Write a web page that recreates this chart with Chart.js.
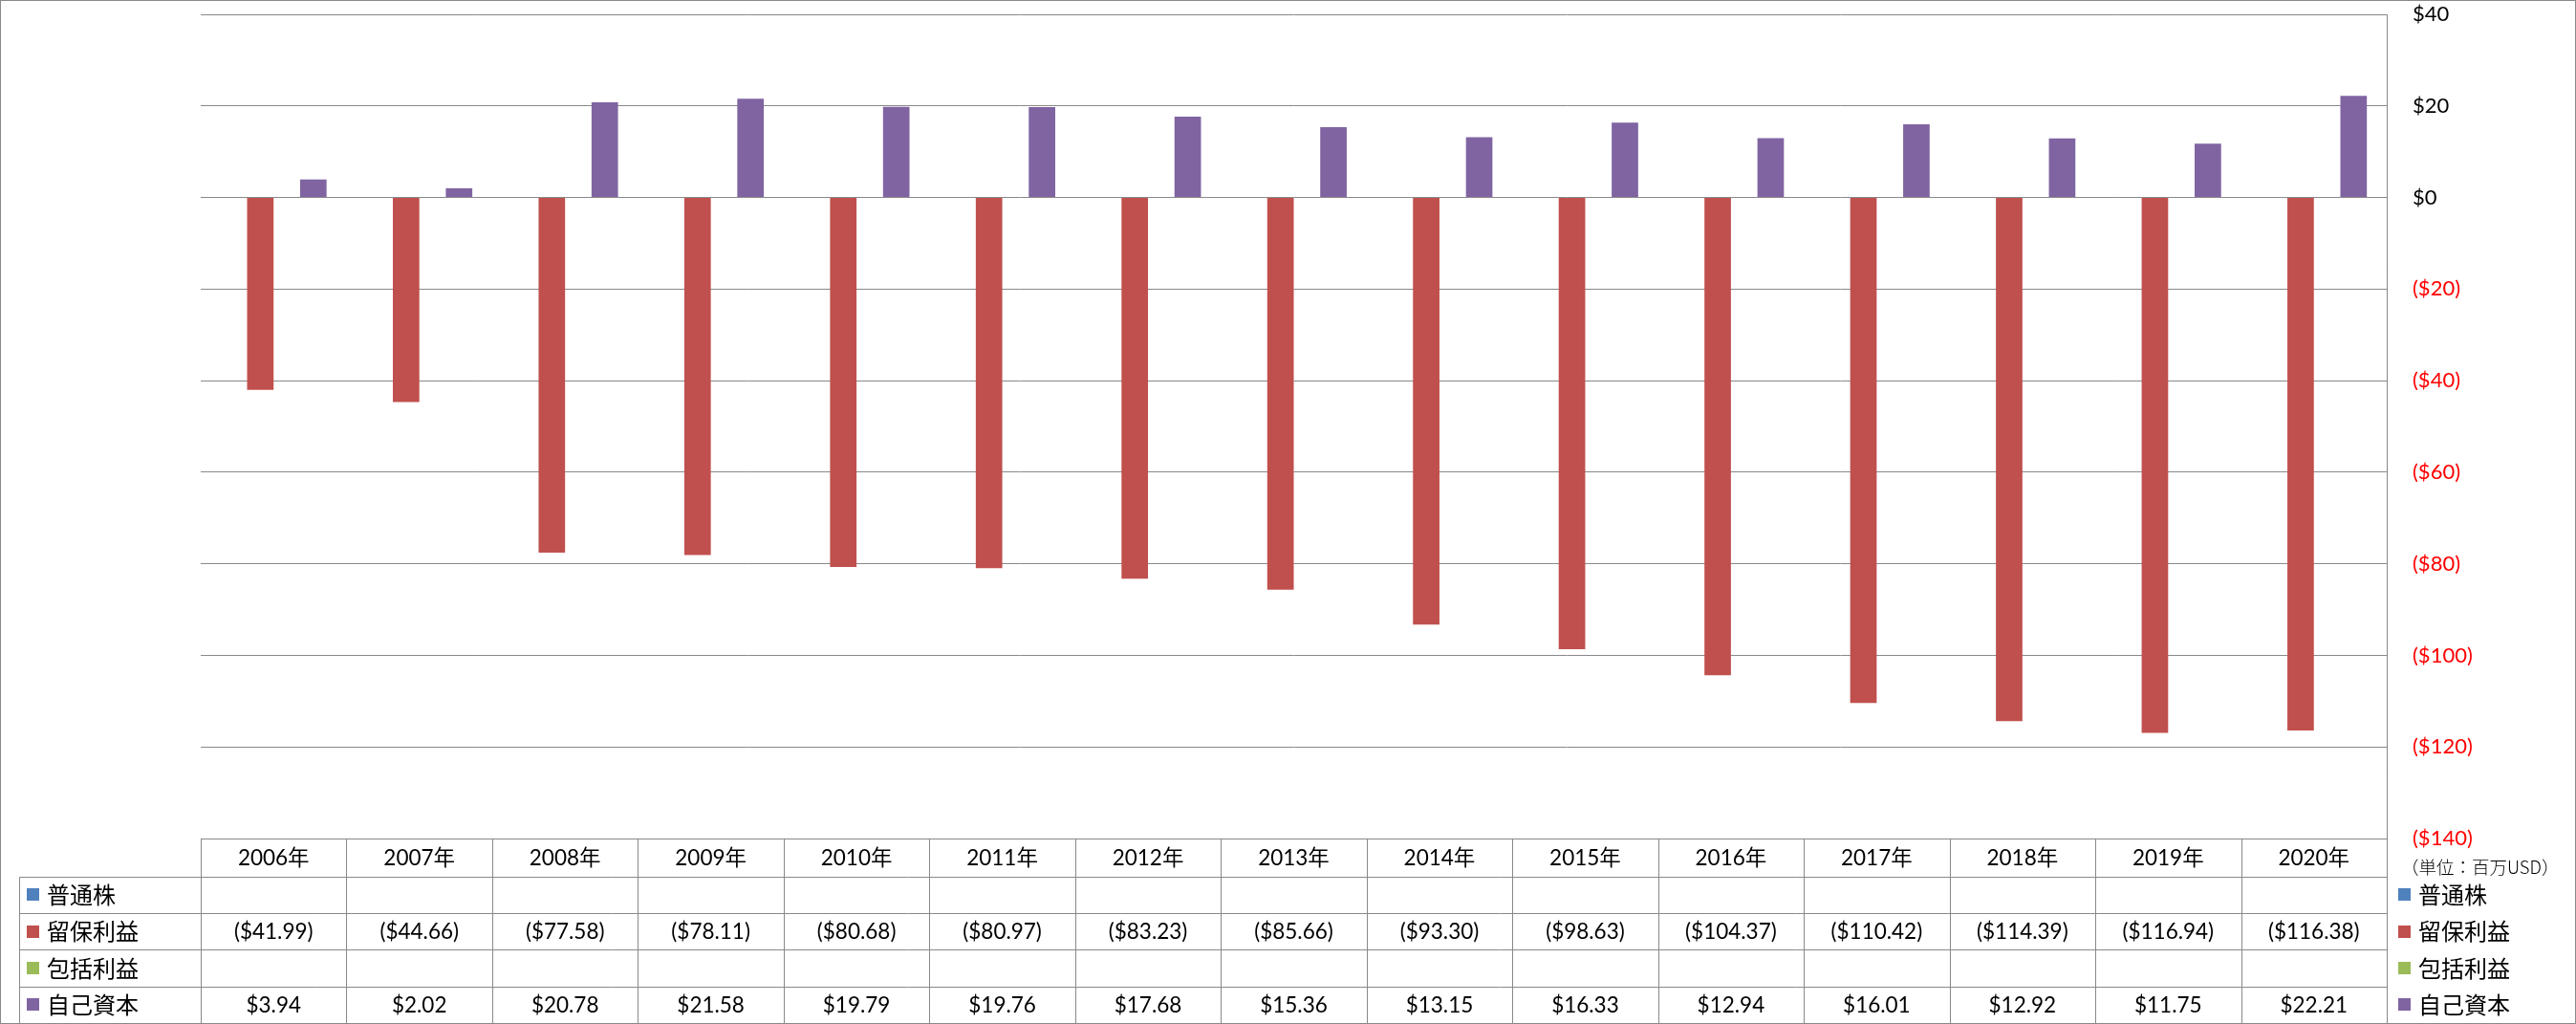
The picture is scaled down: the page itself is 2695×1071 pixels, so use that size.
<!DOCTYPE html>
<html>
<head>
<meta charset="utf-8">
<script src="https://cdn.jsdelivr.net/npm/chart.js@4/dist/chart.umd.min.js"></script>
<style>
html,body{margin:0;padding:0;background:#fff;}
canvas{display:block;}
</style>
</head>
<body>
<canvas id="c" width="2695" height="1071"></canvas>
<script>
const categories = ['2006年','2007年','2008年','2009年','2010年','2011年','2012年','2013年','2014年','2015年','2016年','2017年','2018年','2019年','2020年'];
const seriesNames = ['普通株','留保利益','包括利益','自己資本'];
const commonStock = [null,null,null,null,null,null,null,null,null,null,null,null,null,null,null];
const retainedEarnings = [-41.99,-44.66,-77.58,-78.11,-80.68,-80.97,-83.23,-85.66,-93.30,-98.63,-104.37,-110.42,-114.39,-116.94,-116.38];
const comprehensiveIncome = [null,null,null,null,null,null,null,null,null,null,null,null,null,null,null];
const equity = [3.94,2.02,20.78,21.58,19.79,19.76,17.68,15.36,13.15,16.33,12.94,16.01,12.92,11.75,22.21];
const yMin = -140, yMax = 40, yStep = 20;
const unitLabel = '（単位：百万USD）';

const colors = ['#4F81BD','#C0504D','#9BBB59','#8064A2'];
const seriesData = [commonStock, retainedEarnings, comprehensiveIncome, equity];
const gridColor = '#898989';
const numFont = 'Lato, "Liberation Sans", "Noto Sans CJK JP", sans-serif';
const cjkFont = '"Noto Sans CJK JP", sans-serif';

function fmt(v){
  if (v === null || v === undefined) return '';
  return v < 0 ? '($' + Math.abs(v).toFixed(2) + ')' : '$' + v.toFixed(2);
}

const tablePlugin = {
  id: 'dataTable',
  afterDraw(chart){
    const ctx = chart.ctx;
    const ca = chart.chartArea;
    const xs = chart.scales.x;
    const n = categories.length;
    const left = ca.left, right = ca.right;
    const colW = (right - left) / n;
    const top = ca.bottom;
    const headerBottom = top + 39.5;
    const tableBottom = 1070;
    const rowH = (tableBottom - headerBottom) / 4;
    const labelLeft = 20;
    const px = v => Math.round(v) + 0.5;

    ctx.save();
    ctx.strokeStyle = gridColor;
    ctx.lineWidth = 1;
    ctx.beginPath();
    for (let i = 0; i <= n; i++){
      const x = px(left + i * colW);
      ctx.moveTo(x, px(top));
      ctx.lineTo(x, px(tableBottom));
    }
    ctx.moveTo(px(right), px(ca.top));
    ctx.lineTo(px(right), px(tableBottom));
    ctx.moveTo(px(labelLeft), px(headerBottom));
    ctx.lineTo(px(labelLeft), px(tableBottom));
    ctx.moveTo(px(left), px(top));
    ctx.lineTo(px(right), px(top));
    for (let r = 0; r <= 4; r++){
      const y = px(headerBottom + r * rowH);
      ctx.moveTo(px(labelLeft), y);
      ctx.lineTo(px(right), y);
    }
    ctx.stroke();

    ctx.fillStyle = '#000';
    ctx.textAlign = 'center';
    ctx.textBaseline = 'middle';
    ctx.font = '22.5px ' + numFont;
    for (let i = 0; i < n; i++){
      const cx = xs.getPixelForValue(i);
      ctx.fillText(categories[i], cx, (top + headerBottom) / 2 + 1);
    }
    for (let r = 0; r < 4; r++){
      const cy = headerBottom + (r + 0.5) * rowH + 1;
      for (let i = 0; i < n; i++){
        const t = fmt(seriesData[r][i]);
        if (t) ctx.fillText(t, xs.getPixelForValue(i), cy);
      }
    }
    ctx.textAlign = 'left';
    ctx.font = '24px ' + cjkFont;
    for (let r = 0; r < 4; r++){
      const cy = headerBottom + (r + 0.5) * rowH;
      ctx.fillStyle = colors[r];
      ctx.fillRect(28, Math.round(cy - 6.5), 13, 13);
      ctx.fillRect(2509, Math.round(cy - 6.5), 13, 13);
      ctx.fillStyle = '#000';
      ctx.fillText(seriesNames[r], 49, cy);
      ctx.fillText(seriesNames[r], 2530, cy);
    }
    ctx.font = '300 18.5px ' + cjkFont;
    ctx.fillStyle = '#000';
    ctx.fillText(unitLabel, 2512, 907);

    ctx.strokeStyle = gridColor;
    ctx.strokeRect(0.5, 0.5, 2694, 1070);
    ctx.restore();
  }
};

new Chart(document.getElementById('c'), {
  type: 'bar',
  data: {
    labels: categories,
    datasets: seriesNames.map((name, i) => ({
      label: name,
      data: seriesData[i],
      backgroundColor: colors[i],
      borderWidth: 0,
      barPercentage: 1.0,
      categoryPercentage: 0.727
    }))
  },
  options: {
    responsive: false,
    animation: false,
    devicePixelRatio: 1,
    layout: { padding: { left: 210, right: 0, top: 15, bottom: 194 } },
    plugins: { legend: { display: false }, tooltip: { enabled: false } },
    scales: {
      x: { display: false, type: 'category' },
      y: {
        position: 'right',
        min: yMin, max: yMax,
        afterFit(scale){ scale.width = 198; scale.paddingTop = 0; scale.paddingBottom = 0; },
        grid: { color: gridColor, lineWidth: 1, drawTicks: false },
        border: { display: true, color: gridColor, width: 1 },
        ticks: {
          stepSize: yStep,
          padding: 27,
          font: { family: numFont, size: 22 },
          color: c => (c.tick && c.tick.value < 0) ? '#FF0000' : '#000000',
          callback: v => v < 0 ? '($' + Math.abs(v) + ')' : '$' + v
        }
      }
    }
  },
  plugins: [tablePlugin]
});
</script>
</body>
</html>
